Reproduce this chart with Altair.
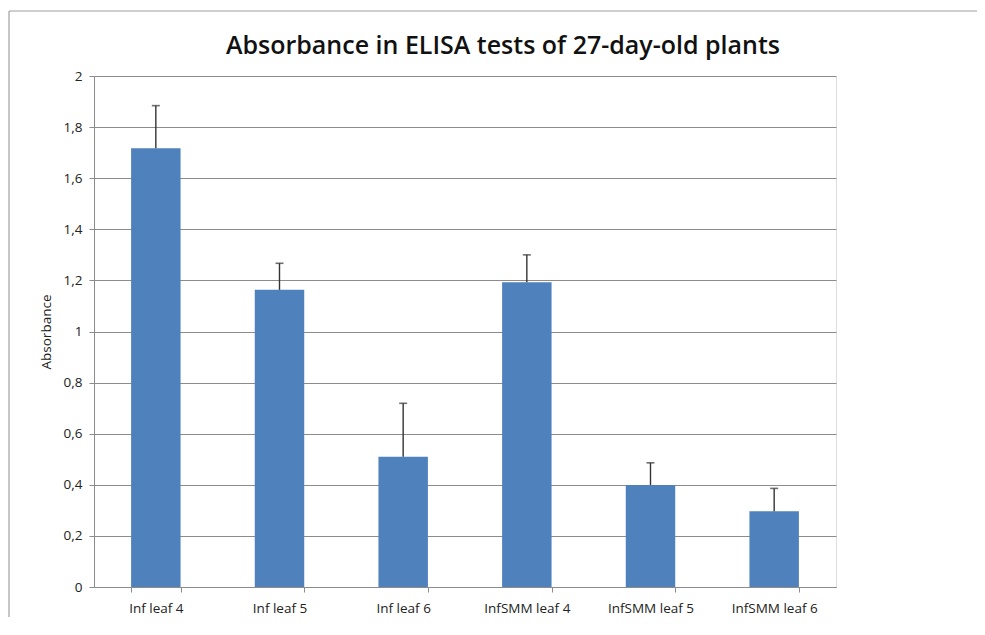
import altair as alt
import pandas as pd

categories = ["Inf leaf 4", "Inf leaf 5", "Inf leaf 6", "InfSMM leaf 4", "InfSMM leaf 5", "InfSMM leaf 6"]
absorbance = [1.717, 1.163, 0.51, 1.193, 0.399, 0.296]
error_top = [1.884, 1.267, 0.719, 1.300, 0.486, 0.386]
title_text = "Absorbance in ELISA tests of 27-day-old plants"

df = pd.DataFrame({"cat": categories, "value": absorbance, "upper": error_top})

GRAY = "#8c8c8c"
W, H = 742, 511

x = alt.X("cat:N", sort=categories, title=None,
          scale=alt.Scale(paddingInner=0.6, paddingOuter=0.3),
          axis=alt.Axis(labelAngle=0, labelFont="Open Sans", labelFontSize=13.5, labelColor="#222",
                        labelPadding=9, tickSize=5, tickColor=GRAY, domainColor=GRAY,
                        tickBand="extent", grid=False))
y = alt.Y("value:Q", title="Absorbance",
          scale=alt.Scale(domain=[0, 2], nice=False),
          axis=alt.Axis(values=[0, 0.2, 0.4, 0.6, 0.8, 1, 1.2, 1.4, 1.6, 1.8, 2],
                        labelExpr="replace(format(datum.value, '.1~f'), '.', ',')",
                        labelFont="Open Sans", labelFontSize=13.5, labelColor="#222",
                        labelPadding=7, tickSize=5, tickColor=GRAY, domainColor=GRAY,
                        gridColor=GRAY, gridWidth=1,
                        titleFont="Open Sans", titleFontSize=13.5, titleFontWeight="normal",
                        titleColor="#222", titlePadding=10))

base = alt.Chart(df)
bars = base.mark_bar(color="#4F81BD").encode(x=x, y=y)
err = base.mark_rule(color="#333333", strokeWidth=1.4).encode(x=x, y="value:Q", y2="upper:Q")
caps = base.mark_tick(color="#333333", size=8, thickness=1.6).encode(x=x, y="upper:Q")

one = pd.DataFrame({"t": [title_text]})
frame_top = alt.Chart(one).mark_rule(color="#a0a0a0", strokeWidth=1.2, clip=False).encode(
    x=alt.value(-85), x2=alt.value(1000), y=alt.value(-65))
frame_left = alt.Chart(one).mark_rule(color="#a0a0a0", strokeWidth=1.2, clip=False).encode(
    x=alt.value(-85), y=alt.value(-65), y2=alt.value(800))
title = alt.Chart(one).mark_text(
    font="Open Sans", fontSize=25, fontWeight=600, color="#111",
    align="center", baseline="middle", clip=False
).encode(x=alt.value(409), y=alt.value(-30), text="t:N")

chart = alt.layer(frame_top, frame_left, title, bars, err, caps).properties(
    width=W, height=H,
    padding={"left": 86, "top": 68, "right": 141, "bottom": 30},
    autosize=alt.AutoSizeParams(type="none"),
).configure_view(stroke=None).configure(background="white")

chart.save("out.html", embed_options={"renderer": "svg", "actions": False})
